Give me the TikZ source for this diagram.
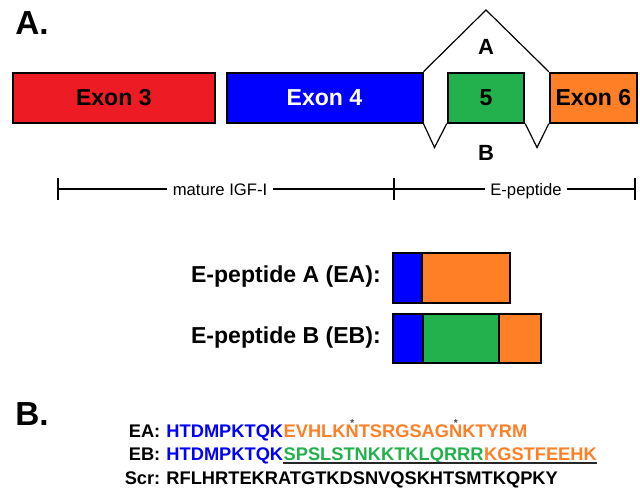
\documentclass[tikz,border=0pt]{standalone}
\usepackage{fontspec}
\setmainfont{Liberation Sans}
\definecolor{exred}{HTML}{ED1C24}
\definecolor{exblue}{HTML}{0000FF}
\definecolor{exgreen}{HTML}{22B14C}
\definecolor{exorange}{HTML}{FF7F27}
\newcommand{\starN}{\ooalign{N\cr\hidewidth\raisebox{8.6pt}{\fontsize{7.5}{7.5}\selectfont\color{black!75}*}\hidewidth\cr}}
\begin{document}
\begin{tikzpicture}[x=0.75pt,y=-0.75pt,
  exonbox/.style={draw=black,line width=1.5pt,minimum height=37.5pt,inner sep=0pt,
    font=\fontsize{17.3}{20}\selectfont\bfseries},
  pepbox/.style={draw=black,line width=1.5pt,minimum height=37pt,inner sep=0pt,outer sep=0pt,anchor=west},
  lbl/.style={font=\fontsize{17.3}{20}\selectfont\bfseries,inner sep=0pt},
  big/.style={font=\fontsize{25}{30}\selectfont\bfseries,inner sep=0pt,anchor=base west},
  splice/.style={draw=black,line width=0.9pt},
  seq/.style={font=\fontsize{13.7}{16}\selectfont\bfseries,inner sep=0pt,anchor=base west},
  seqlbl/.style={font=\fontsize{13.7}{16}\selectfont\bfseries,inner sep=0pt,anchor=base east},
  rul/.style={font=\fontsize{12.5}{15}\selectfont,fill=white,inner xsep=4pt,inner ysep=1pt,anchor=base},
  rline/.style={draw=black,line width=0.8pt}]
\useasboundingbox (0,0) rectangle (640,490);

% Panel A
\node[big] (titleA) at (15,34) {A.};

\node[exonbox,fill=exred,minimum width=151.7pt] (ex3) at (113.85,97.7) {Exon 3};
\node[exonbox,fill=exblue,text=white,minimum width=147pt] (ex4) at (324.5,97.7) {Exon 4};
\node[exonbox,fill=exgreen,minimum width=57.4pt] (ex5) at (486,97.7) {5};
\node[exonbox,fill=exorange,minimum width=65.4pt] (ex6) at (593.4,97.7) {Exon 6};

\coordinate (apexA) at (486,10);
\coordinate (vB1) at (434.5,147.5);
\coordinate (vB2) at (537,147.5);
\draw[splice] (ex4.north east) -- (apexA) -- (ex6.north west);
\draw[splice] (ex4.south east) -- (vB1) -- (ex5.south west);
\draw[splice] (ex5.south east) -- (vB2) -- (ex6.south west);
\node[font=\fontsize{16.5}{19}\selectfont\bfseries,inner sep=0pt] (labA) at (486,46.5) {A};
\node[font=\fontsize{16.5}{19}\selectfont\bfseries,inner sep=0pt] (labB) at (486,153) {B};

% ruler
\coordinate (r1) at (58,189);
\coordinate (r2) at (394,189);
\coordinate (r3) at (635,189);
\draw[rline] (r1) -- (r3);
\draw[rline] ([yshift=-11*0.75pt]r1) -- ([yshift=11*0.75pt]r1);
\draw[rline] ([yshift=-11*0.75pt]r2) -- ([yshift=11*0.75pt]r2);
\draw[rline] ([yshift=-11*0.75pt]r3) -- ([yshift=11*0.75pt]r3);
\node[rul] (matlab) at (220,195) {mature IGF-I};
\node[rul] (eplab) at (526,195) {E-peptide};

% peptides
\node[pepbox,fill=exblue,minimum width=21.3pt] (eaB) at (393.3,278) {};
\node[pepbox,fill=exorange,minimum width=66.2pt] (eaO) at (eaB.east) {};
\node[lbl,anchor=east] (eaL) at (381,277) {E-peptide A (EA):};

\node[pepbox,fill=exblue,minimum width=22pt] (ebB) at (393.3,338.7) {};
\node[pepbox,fill=exgreen,minimum width=57.5pt] (ebG) at (ebB.east) {};
\node[pepbox,fill=exorange,minimum width=31pt] (ebO) at (ebG.east) {};
\node[lbl,anchor=east] (ebL) at (381,337.5) {E-peptide B (EB):};

% Panel B
\node[big] (titleB) at (15,425) {B.};

\node[seqlbl] (eaT) at (160.6,437.5) {EA:};
\node[seq,text=exblue] (ea1) at (166.2,437.5) {HTDMPKTQK};
\node[seq,text=exorange] (ea2) at (ea1.base east) {EVHLK\starN TSRGSAG\starN KTYRM};

\node[seqlbl] (ebT) at (160.6,460.5) {EB:};
\node[seq,text=exblue] (eb1) at (166.2,460.5) {HTDMPKTQK};
\node[seq,text=exgreen] (eb2) at (eb1.base east) {SPSLSTNKKTKLQRRR};
\node[seq,text=exorange] (eb3) at (eb2.base east) {KGSTFEEHK};
\draw[draw=black!85,line width=1.2pt] ([yshift=-1.8pt]eb2.base west) -- ([yshift=-1.8pt]eb3.base east);

\node[seqlbl] (scT) at (160.6,484.5) {Scr:};
\node[seq] (sc1) at (166.2,484.5) {RFLHRTEKRATGTKDSNVQSKHTSMTKQPKY};
\end{tikzpicture}
\end{document}
